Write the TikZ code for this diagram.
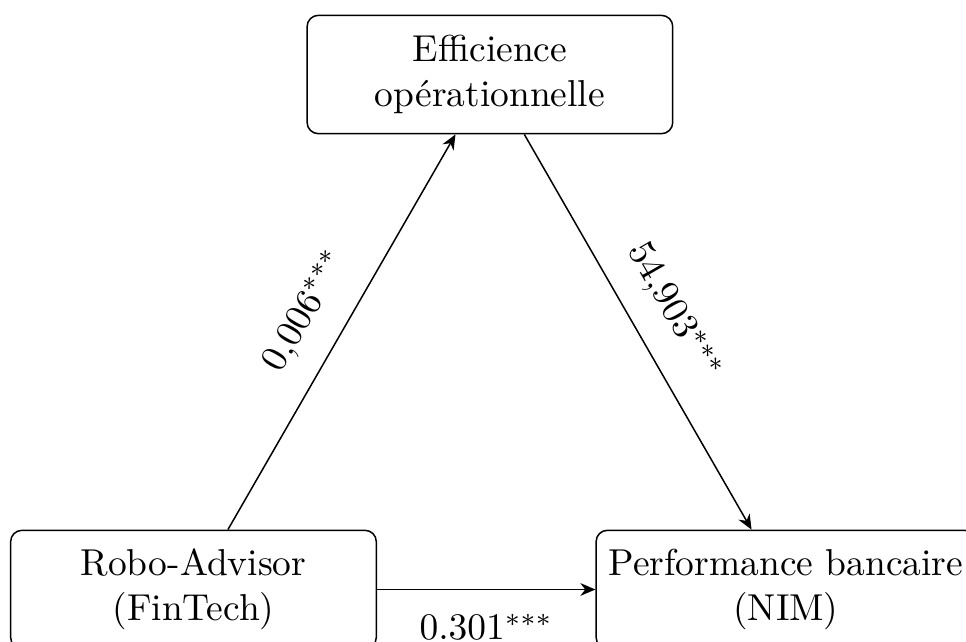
\documentclass[tikz,border=0pt]{standalone}
\usepackage{fontspec}
\usetikzlibrary{arrows.meta}

\tikzset{
	box/.style={draw, rounded corners=3pt, align=center, minimum width=3.43cm, minimum height=1.11cm},
	coef/.style={midway, font=\normalsize}
}

\begin{document}
\begin{tikzpicture}[x=1cm,y=1cm,>={Stealth[length=4pt,width=3.4pt]}]
		\useasboundingbox (-1.815,-0.4925) rectangle (7.247,5.530);
		\clip (-1.815,-0.4925) rectangle (7.247,5.530);
		\node[box] (RA) at (0,0) {Robo-Advisor\\(FinTech)};
		\node[box] (EO) at (2.781,4.831) {Efficience\\opérationnelle};
		\node[box] (PB) at (5.558,0) {Performance bancaire\\(NIM)};
		\draw[->] (RA) -- (EO) node [coef, above=3pt, sloped] {$0{,}006^{***}$};
		\draw[->] (EO) -- (PB) node [coef, above=3pt, sloped] {$54{,}903^{***}$};
		\draw[->] (RA) -- (PB) node [coef, below=3pt] {$0.301^{***}$};
	\end{tikzpicture}
\end{document}
